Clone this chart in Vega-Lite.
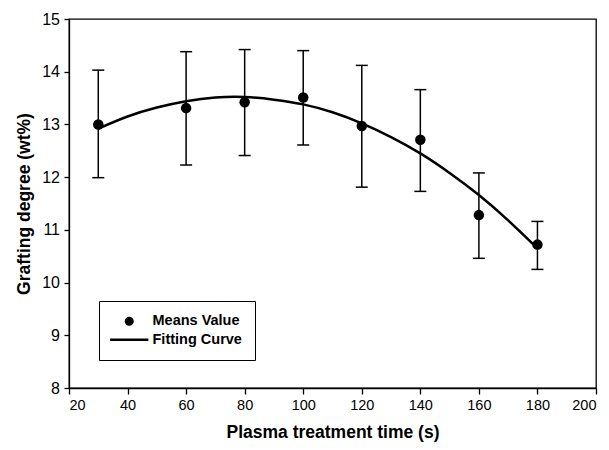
{
  "$schema": "https://vega.github.io/schema/vega-lite/v6.json",
  "width": 527,
  "height": 369,
  "autosize": {"type": "none"},
  "padding": {"left": 69, "top": 19, "right": 13, "bottom": 62},
  "background": "white",
  "config": {
    "font": "Liberation Sans",
    "view": {"stroke": "black", "strokeWidth": 1.3},
    "axis": {
      "grid": false,
      "domainColor": "black",
      "domainWidth": 1.3,
      "tickColor": "black",
      "tickWidth": 1.3,
      "labelColor": "black",
      "labelFont": "Liberation Sans",
      "titleColor": "black",
      "titleFont": "Liberation Sans",
      "titleFontWeight": "bold",
      "titleFontSize": 17.5
    }
  },
  "datasets": {
    "means": [
      {"time": 30, "mean": 13.0, "low": 11.99, "high": 14.03},
      {"time": 60, "mean": 13.31, "low": 12.23, "high": 14.38},
      {"time": 80, "mean": 13.42, "low": 12.41, "high": 14.42},
      {"time": 100, "mean": 13.51, "low": 12.61, "high": 14.40},
      {"time": 120, "mean": 12.97, "low": 11.81, "high": 14.12},
      {"time": 140, "mean": 12.71, "low": 11.73, "high": 13.66},
      {"time": 160, "mean": 11.28, "low": 10.46, "high": 12.08},
      {"time": 180, "mean": 10.72, "low": 10.25, "high": 11.16}
    ],
    "curve": [
      {"time": 30, "fit": 12.92},
      {"time": 40, "fit": 13.15},
      {"time": 50, "fit": 13.32},
      {"time": 60, "fit": 13.44},
      {"time": 70, "fit": 13.51},
      {"time": 80, "fit": 13.52},
      {"time": 90, "fit": 13.47},
      {"time": 100, "fit": 13.38},
      {"time": 110, "fit": 13.23},
      {"time": 120, "fit": 13.02},
      {"time": 130, "fit": 12.76},
      {"time": 140, "fit": 12.45},
      {"time": 150, "fit": 12.08},
      {"time": 160, "fit": 11.66},
      {"time": 170, "fit": 11.18},
      {"time": 180, "fit": 10.65}
    ]
  },
  "layer": [
    {
      "data": {"name": "curve"},
      "mark": {"type": "line", "color": "black", "strokeWidth": 2.5, "interpolate": "natural"},
      "encoding": {
        "x": {
          "field": "time", "type": "quantitative",
          "scale": {"domain": [20, 200], "nice": false, "zero": false},
          "axis": {"title": "Plasma treatment time (s)", "values": [20, 40, 60, 80, 100, 120, 140, 160, 180, 200], "format": "d", "tickSize": 6, "labelFontSize": 14.5, "labelPadding": 4, "titlePadding": 12}
        },
        "y": {
          "field": "fit", "type": "quantitative",
          "scale": {"domain": [8, 15], "nice": false, "zero": false},
          "axis": {"title": "Grafting degree (wt%)", "values": [8, 9, 10, 11, 12, 13, 14, 15], "format": "d", "tickSize": 5, "labelFontSize": 16, "labelPadding": 4.5, "titlePadding": 8}
        }
      }
    },
    {
      "data": {"name": "means"},
      "mark": {"type": "rule", "color": "black", "strokeWidth": 1.5},
      "encoding": {
        "x": {"field": "time", "type": "quantitative"},
        "y": {"field": "low", "type": "quantitative"},
        "y2": {"field": "high"}
      }
    },
    {
      "data": {"name": "means"},
      "mark": {"type": "tick", "orient": "horizontal", "color": "black", "size": 12, "thickness": 1.5, "opacity": 1},
      "encoding": {
        "x": {"field": "time", "type": "quantitative"},
        "y": {"field": "low", "type": "quantitative"}
      }
    },
    {
      "data": {"name": "means"},
      "mark": {"type": "tick", "orient": "horizontal", "color": "black", "size": 12, "thickness": 1.5, "opacity": 1},
      "encoding": {
        "x": {"field": "time", "type": "quantitative"},
        "y": {"field": "high", "type": "quantitative"}
      }
    },
    {
      "data": {"name": "means"},
      "mark": {"type": "point", "filled": true, "size": 110, "opacity": 1, "color": "black"},
      "encoding": {
        "x": {"field": "time", "type": "quantitative"},
        "y": {"field": "mean", "type": "quantitative"},
        "shape": {
          "datum": "Means Value",
          "scale": {"domain": ["Means Value", "Fitting Curve"], "range": ["circle", "M-4.25,-0.3H4.25V0.3H-4.25Z"]},
          "legend": {
            "title": null,
            "orient": "none",
            "legendX": 30,
            "legendY": 282,
            "padding": 13,
            "strokeColor": "black",
            "fillColor": "white",
            "labelFont": "Liberation Sans",
            "labelFontSize": 14.5,
            "labelFontWeight": "bold",
            "labelColor": "black",
            "symbolSize": 81,
            "symbolOffset": 10,
            "labelOffset": 16,
            "rowPadding": 3.5,
            "symbolFillColor": "black",
            "symbolStrokeColor": "black",
            "symbolStrokeWidth": 0.5,
            "encode": {
              "symbols": {
                "update": {
                  "fill": {"value": "black"},
                  "stroke": {"value": "black"},
                  "strokeWidth": {"value": 0.5},
                  "opacity": {"value": 1}
                }
              }
            }
          }
        }
      }
    }
  ]
}
